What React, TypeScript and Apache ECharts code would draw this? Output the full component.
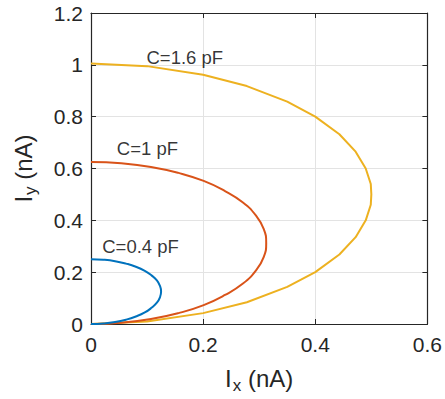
import React, { useEffect, useRef } from "react";
import * as echarts from "echarts";

const xTicks = [0, 0.2, 0.4, 0.6];
const yTicks = [0, 0.2, 0.4, 0.6, 0.8, 1, 1.2];

const seriesNames = ["C=0.4 pF", "C=1 pF", "C=1.6 pF"];
const seriesColors = ["#0072BD", "#D95319", "#EDB120"];

// C = 0.4 pF curve (Ix, Iy)
const c04: [number, number][] = [
  [0, 0], [0.022, 0.002], [0.043, 0.0075], [0.0625, 0.0167], [0.08, 0.029],
  [0.096, 0.0446], [0.108, 0.0625], [0.1175, 0.082], [0.123, 0.103], [0.125, 0.125],
  [0.123, 0.147], [0.1175, 0.168], [0.108, 0.1875], [0.096, 0.205], [0.08, 0.221],
  [0.0625, 0.233], [0.043, 0.2425], [0.022, 0.248], [0, 0.25],
];

// C = 1 pF curve
const c1: [number, number][] = [
  [0, 0], [0.054, 0.005], [0.107, 0.019], [0.156, 0.042], [0.201, 0.073],
  [0.239, 0.112], [0.271, 0.156], [0.294, 0.206], [0.308, 0.258], [0.3125, 0.3125],
  [0.308, 0.367], [0.294, 0.419], [0.271, 0.469], [0.239, 0.513], [0.201, 0.552],
  [0.156, 0.583], [0.107, 0.606], [0.054, 0.62], [0, 0.625],
];

// C = 1.6 pF curve
const c16: [number, number][] = [
  [0, 0], [0.1, 0.01], [0.2, 0.042], [0.278, 0.084], [0.35, 0.143],
  [0.4, 0.2], [0.443, 0.268], [0.472, 0.335], [0.49, 0.4], [0.499, 0.46],
  [0.5, 0.5],
  [0.499, 0.54], [0.49, 0.6], [0.472, 0.665], [0.443, 0.732], [0.4, 0.8],
  [0.35, 0.858], [0.278, 0.918], [0.2, 0.962], [0.1, 0.995], [0, 1.005],
];

const labelTexts = ["C=0.4 pF", "C=1 pF", "C=1.6 pF"];
const labelX = [0.02, 0.046, 0.099];
const labelY = [0.3, 0.677, 1.029];

export default function App() {
  const ref = useRef<HTMLDivElement>(null);
  useEffect(() => {
    if (!ref.current) return;
    const chart = echarts.init(ref.current, undefined, { renderer: "svg" });
    const font = "Liberation Sans, Arial, sans-serif";
    const axisColor = "#262626";
    const curves = [c04, c1, c16];
    const boxLine = { show: true, onZero: false, lineStyle: { color: axisColor, width: 1.2 } };
    const tick = { show: true, inside: true, length: 5, lineStyle: { color: axisColor } };
    const option: any = {
      animation: false,
      backgroundColor: "#ffffff",
      textStyle: { fontFamily: font },
      grid: { left: 91, right: 15, top: 13, bottom: 75 },
      xAxis: [
        {
          type: "value",
          min: xTicks[0],
          max: xTicks[xTicks.length - 1],
          interval: 0.2,
          position: "bottom",
          axisLine: boxLine,
          axisTick: tick,
          axisLabel: {
            color: axisColor,
            fontSize: 21,
            fontFamily: font,
            margin: 10,
            formatter: (v: number) => String(Math.round(v * 10) / 10),
          },
          splitLine: { show: true, lineStyle: { color: "#e3e3e3", width: 1 } },
          name: "{i|I}{s|x}{i| (nA)}",
          nameLocation: "middle",
          nameGap: 39,
          nameTextStyle: {
            rich: {
              i: { fontSize: 24, fontFamily: font, color: axisColor },
              s: { fontSize: 17, fontFamily: font, color: axisColor, padding: [14, 0, 0, 1] },
            },
          },
        },
        {
          type: "value",
          min: xTicks[0],
          max: xTicks[xTicks.length - 1],
          interval: 0.2,
          position: "top",
          axisLine: boxLine,
          axisTick: tick,
          axisLabel: { show: false },
          splitLine: { show: false },
        },
      ],
      yAxis: [
        {
          type: "value",
          min: yTicks[0],
          max: yTicks[yTicks.length - 1],
          interval: 0.2,
          position: "left",
          axisLine: boxLine,
          axisTick: tick,
          axisLabel: {
            color: axisColor,
            fontSize: 21,
            fontFamily: font,
            margin: 8,
            formatter: (v: number) => String(Math.round(v * 10) / 10),
          },
          splitLine: { show: true, lineStyle: { color: "#e3e3e3", width: 1 } },
          name: "{i|I}{s|y}{i| (nA)}",
          nameLocation: "middle",
          nameGap: 52,
          nameRotate: 90,
          nameTextStyle: {
            rich: {
              i: { fontSize: 24, fontFamily: font, color: axisColor },
              s: { fontSize: 17, fontFamily: font, color: axisColor, padding: [14, 0, 0, 1] },
            },
          },
        },
        {
          type: "value",
          min: yTicks[0],
          max: yTicks[yTicks.length - 1],
          interval: 0.2,
          position: "right",
          axisLine: boxLine,
          axisTick: tick,
          axisLabel: { show: false },
          splitLine: { show: false },
        },
      ],
      series: [
        ...curves.map((d, i) => ({
          name: seriesNames[i],
          type: "line",
          data: d,
          showSymbol: false,
          smooth: i === 2 ? false : 0.5,
          lineStyle: { color: seriesColors[i], width: 2 },
          itemStyle: { color: seriesColors[i] },
          z: 3 - i,
          silent: true,
        })),
        {
          type: "scatter",
          data: labelTexts.map((t, i) => ({ value: [labelX[i], labelY[i]], name: t })),
          symbolSize: 0,
          silent: true,
          label: {
            show: true,
            position: "right",
            distance: 0,
            formatter: (p: any) => p.name,
            color: "#000000",
            fontSize: 18.5,
            fontFamily: font,
          },
        },
      ],
    };
    chart.setOption(option);
    return () => chart.dispose();
  }, []);
  return <div ref={ref} style={{ width: 445, height: 399, position: "absolute", left: 0, top: 0 }} />;
}
